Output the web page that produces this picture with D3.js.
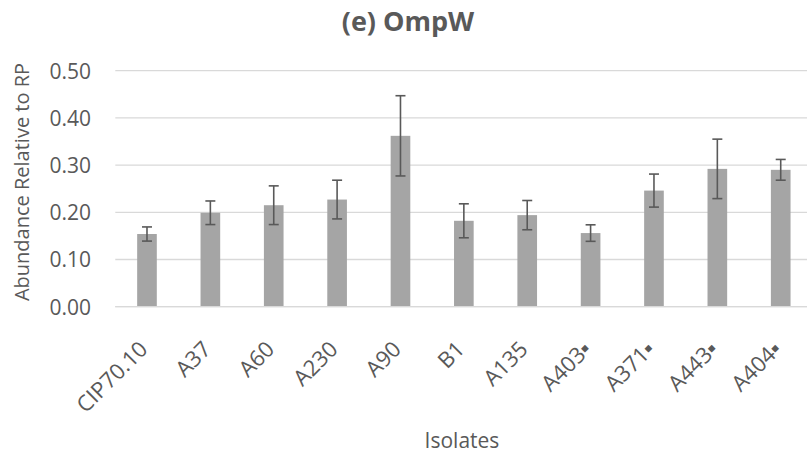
<!DOCTYPE html>
<html><head><meta charset="utf-8">
<script src="https://cdn.jsdelivr.net/npm/d3@7"></script>
<style>body{margin:0;background:#fff;} svg{display:block;}</style>
</head><body>
<script>
const categories = ["CIP70.10","A37","A60","A230","A90","B1","A135","A403▪","A371▪","A443▪","A404▪"];
const values = [0.154,0.199,0.215,0.227,0.362,0.182,0.194,0.156,0.246,0.292,0.290];
const errors = [0.015,0.025,0.041,0.041,0.085,0.036,0.031,0.0175,0.035,0.063,0.022];
const yTicks = [0,0.1,0.2,0.3,0.4,0.5];

const W = 807, H = 458;
const font = "'Open Sans', sans-serif";
const txt = "#595959";
const svg = d3.select("body").append("svg").attr("width", W).attr("height", H);

const x = d3.scaleBand().domain(categories).range([115.3, 812.4]).paddingInner(0.69).paddingOuter(0.345);
const y = d3.scaleLinear().domain([0,0.5]).range([306.7, 70.7]);

// gridlines
svg.append("g").selectAll("line").data(yTicks).join("line")
  .attr("x1", 115.3).attr("x2", 812.4)
  .attr("y1", d => y(d)).attr("y2", d => y(d))
  .attr("stroke", "#d9d9d9").attr("stroke-width", 1.3);

// y axis labels
const yAxis = d3.axisLeft(y).tickValues(yTicks).tickFormat(d3.format(".2f")).tickSize(0).tickPadding(0);
const gy = svg.append("g").attr("transform", "translate(91,0)").call(yAxis);
gy.select(".domain").remove();
gy.selectAll("text").attr("font-family", font).attr("font-size", 21).attr("fill", txt).attr("dy", "0.35em");

// bars
svg.append("g").selectAll("rect").data(categories).join("rect")
  .attr("x", d => x(d)).attr("width", x.bandwidth())
  .attr("y", (d,i) => y(values[i])).attr("height", (d,i) => y(0) - y(values[i]))
  .attr("fill", "#a5a5a5");

// error bars
const eg = svg.append("g").attr("stroke", "#595959").attr("stroke-width", 1.6);
categories.forEach((c,i) => {
  const cx = x(c) + x.bandwidth()/2;
  const t = y(values[i] + errors[i]), b = y(values[i] - errors[i]);
  eg.append("line").attr("x1", cx).attr("x2", cx).attr("y1", t).attr("y2", b);
  eg.append("line").attr("x1", cx-5).attr("x2", cx+5).attr("y1", t).attr("y2", t);
  eg.append("line").attr("x1", cx-5).attr("x2", cx+5).attr("y1", b).attr("y2", b);
});

// x axis baseline
svg.append("line").attr("x1", 115.3).attr("x2", 812.4).attr("y1", y(0)).attr("y2", y(0))
  .attr("stroke", "#d9d9d9").attr("stroke-width", 1.3);

// x labels
const xAxis = d3.axisBottom(x).tickSize(0).tickPadding(0);
const gx = svg.append("g").attr("transform", `translate(0,${y(0)})`).call(xAxis);
gx.select(".domain").remove();
gx.selectAll("text")
  .attr("font-family", font).attr("font-size", 22).attr("fill", txt)
  .attr("text-anchor", "end").attr("dy", null).attr("y", 0)
  .attr("transform", "translate(2,44) rotate(-45)");

// title
svg.append("text").attr("x", 408).attr("y", 31).attr("text-anchor", "middle")
  .attr("font-family", font).attr("font-weight", "bold").attr("font-size", 27).attr("fill", txt)
  .text("(e) OmpW");

// axis titles
svg.append("text").attr("x", 462).attr("y", 448).attr("text-anchor", "middle")
  .attr("font-family", font).attr("font-size", 21).attr("fill", txt).text("Isolates");
svg.append("text").attr("transform", "translate(29,182) rotate(-90)").attr("text-anchor", "middle")
  .attr("font-family", font).attr("font-size", 20).attr("fill", txt).text("Abundance Relative to RP");
</script>
</body></html>
